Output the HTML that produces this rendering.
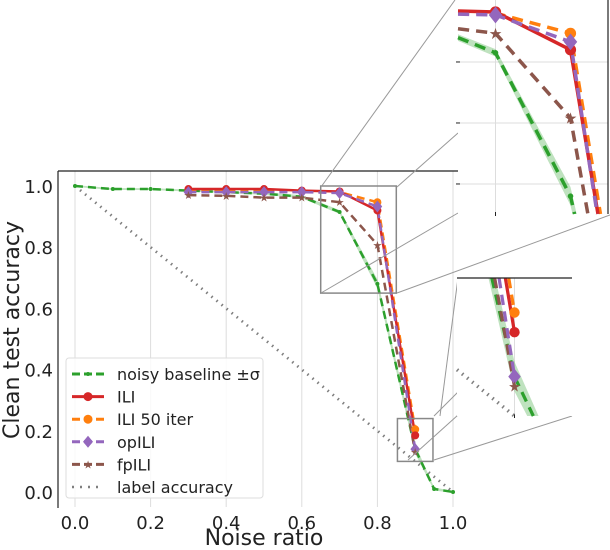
<!DOCTYPE html>
<html><head><meta charset="utf-8"><style>
html,body{margin:0;background:#fff;overflow:hidden;width:610px;height:550px}
svg{display:block;font-family:"DejaVu Sans","Liberation Sans",sans-serif;overflow:hidden}
</style></head><body>
<svg id="c" width="610" height="550" viewBox="0 0 610 550"></svg>
<script>
const xNoise=[0,0.1,0.2,0.3,0.4,0.5,0.6,0.7,0.8,0.9,0.95,1.0];
const yBaseline=[1.0,0.99,0.99,0.985,0.98,0.975,0.965,0.915,0.68,0.14,0.01,0.0];
const yBaseSd=[0.003,0.003,0.003,0.003,0.003,0.004,0.005,0.006,0.015,0.015,0.005,0.003];
const xILI=[0.3,0.4,0.5,0.6,0.7,0.8,0.9];
const yILI=[0.99,0.99,0.99,0.985,0.982,0.92,0.185];
const yILI50=[0.985,0.985,0.985,0.982,0.98,0.947,0.205];
const yOpILI=[0.98,0.98,0.98,0.98,0.977,0.933,0.14];
const yFpILI=[0.97,0.968,0.962,0.962,0.947,0.808,0.13];
const xLabelAcc=[0,1];
const yLabelAcc=[1,0];
const xTicks=[0,0.2,0.4,0.6,0.8,1.0];
const yTicks=[0,0.2,0.4,0.6,0.8,1.0];
const legendLabels=["noisy baseline ±σ","ILI","ILI 50 iter","opILI","fpILI","label accuracy"];

const NS="http://www.w3.org/2000/svg";
const svg=document.getElementById('c');
function el(tag,attrs,parent){const e=document.createElementNS(NS,tag);for(const k in attrs)e.setAttribute(k,attrs[k]);(parent||svg).appendChild(e);return e;}

const C={g:'#2ca02c',r:'#d62728',o:'#ff7f0e',p:'#9467bd',b:'#8c564b',gr:'#7f7f7f'};

function makeAxes(name,px0,px1,py0,py1,xmin,xmax,ymin,ymax,scaleM){
  const sx=v=>px0+(v-xmin)/(xmax-xmin)*(px1-px0);
  const sy=v=>py0-(v-ymin)/(ymax-ymin)*(py0-py1);
  return {sx,sy,name,scaleM};
}
// clip a segment to rect (Liang-Barsky)
function clipSeg(a,b,R){
  let t0=0,t1=1;const dx=b[0]-a[0],dy=b[1]-a[1];
  const p=[-dx,dx,-dy,dy],q=[a[0]-R.x0,R.x1-a[0],a[1]-R.y0,R.y1-a[1]];
  for(let i=0;i<4;i++){
    if(p[i]===0){if(q[i]<0)return null;}
    else{const r=q[i]/p[i];if(p[i]<0){if(r>t1)return null;if(r>t0)t0=r;}else{if(r<t0)return null;if(r<t1)t1=r;}}
  }
  return [[a[0]+t0*dx,a[1]+t0*dy],[a[0]+t1*dx,a[1]+t1*dy]];
}
function clipPolyline(pts,R){
  const runs=[];let cur=null;
  for(let i=0;i<pts.length-1;i++){
    const s=clipSeg(pts[i],pts[i+1],R);
    if(!s){cur=null;continue;}
    if(cur&&Math.abs(cur[cur.length-1][0]-s[0][0])<1e-6&&Math.abs(cur[cur.length-1][1]-s[0][1])<1e-6){cur.push(s[1]);}
    else{cur=[s[0],s[1]];runs.push(cur);}
  }
  return runs;
}
function clipPolygon(poly,R){
  const edges=[[p=>p[0]>=R.x0,(a,b)=>{const t=(R.x0-a[0])/(b[0]-a[0]);return [R.x0,a[1]+t*(b[1]-a[1])];}],
    [p=>p[0]<=R.x1,(a,b)=>{const t=(R.x1-a[0])/(b[0]-a[0]);return [R.x1,a[1]+t*(b[1]-a[1])];}],
    [p=>p[1]>=R.y0,(a,b)=>{const t=(R.y0-a[1])/(b[1]-a[1]);return [a[0]+t*(b[0]-a[0]),R.y0];}],
    [p=>p[1]<=R.y1,(a,b)=>{const t=(R.y1-a[1])/(b[1]-a[1]);return [a[0]+t*(b[0]-a[0]),R.y1];}]];
  let out=poly;
  for(const [inside,inter] of edges){
    const inp=out;out=[];if(!inp.length)break;
    for(let i=0;i<inp.length;i++){
      const cur=inp[i],prev=inp[(i+inp.length-1)%inp.length];
      if(inside(cur)){if(!inside(prev))out.push(inter(prev,cur));out.push(cur);}
      else if(inside(prev))out.push(inter(prev,cur));
    }
  }
  return out;
}
function inR(x,y,R){return x>=R.x0-1&&x<=R.x1+1&&y>=R.y0-1&&y<=R.y1+1;}

function drawSeries(ax,g,R){
  const {sx,sy}=ax;const m=ax.scaleM;
  let poly=[];xNoise.forEach((x,i)=>poly.push([sx(x),sy(yBaseline[i]+yBaseSd[i])]));
  for(let i=xNoise.length-1;i>=0;i--)poly.push([sx(xNoise[i]),sy(yBaseline[i]-yBaseSd[i])]);
  poly=clipPolygon(poly,R);
  if(poly.length>2){
    const band=el('polygon',{points:poly.map(p=>p[0].toFixed(2)+','+p[1].toFixed(2)).join(' '),fill:C.g,opacity:0.3},g);
    
    
  }
  function line(xs,ys,color,dash,w,name){
    const runs=clipPolyline(xs.map((x,i)=>[sx(x),sy(ys[i])]),R);
    runs.forEach(r=>{
      const p=el('polyline',{points:r.map(q=>q[0].toFixed(2)+','+q[1].toFixed(2)).join(' '),fill:'none',stroke:color,'stroke-width':w,'stroke-dasharray':dash,'stroke-linejoin':'round'},g);
      
      
    });
  }
  const dd=(8*m)+' '+(5*m);
  line(xLabelAcc,yLabelAcc,C.gr,'1.5 5',2.8*m,'label-accuracy-line');
  line(xNoise,yBaseline,C.g,dd,2.5*m,'baseline-line');
  xNoise.forEach((x,i)=>{if(!inR(sx(x),sy(yBaseline[i]),R))return;const c=el('circle',{cx:sx(x),cy:sy(yBaseline[i]),r:2*m,fill:C.g},g);});
  line(xILI,yFpILI,C.b,dd,2.5*m,'fpili-line');
  line(xILI,yILI50,C.o,dd,2.5*m,'ili50-line');
  line(xILI,yILI,C.r,'',2.5*m,'ili-line');
  line(xILI,yOpILI,C.p,dd,2.5*m,'opili-line');
  xILI.forEach((x,i)=>{
    const X=sx(x);
    let c;
    if(inR(X,sy(yILI50[i]),R)){c=el('circle',{cx:X,cy:sy(yILI50[i]),r:4*m,fill:C.o},g);}
    if(inR(X,sy(yILI[i]),R)){c=el('circle',{cx:X,cy:sy(yILI[i]),r:4*m,fill:C.r},g);}
    const Y=sy(yOpILI[i]),s=6*m;
    if(inR(X,Y,R)){c=el('polygon',{points:`${X},${Y-s} ${X+s*0.8},${Y} ${X},${Y+s} ${X-s*0.8},${Y}`,fill:C.p},g);}
    if(inR(X,sy(yFpILI[i]),R)){c=el('text',{x:X,y:sy(yFpILI[i])+4*m,'text-anchor':'middle','font-size':11*m,fill:C.b},g);c.textContent='★';}
  });
}

const main=makeAxes('main',75,453,492,186,0,1,0,1,1);
xTicks.forEach(t=>{const l=el('line',{x1:main.sx(t),x2:main.sx(t),y1:171,y2:507,stroke:'#ddd','stroke-width':1});});
const gm=el('g',{});
drawSeries(main,gm,{x0:58,x1:458,y0:171,y1:507});
let s=el('line',{x1:58,x2:58,y1:171,y2:508,stroke:'#222','stroke-width':1.2});
s=el('line',{x1:58,x2:458,y1:171,y2:171,stroke:'#222','stroke-width':1.2});
xTicks.forEach(t=>{const e=el('text',{x:main.sx(t),y:529,'text-anchor':'middle','font-size':18,fill:'#222'});e.textContent=t.toFixed(1);});
yTicks.forEach(t=>{const e=el('text',{x:53,y:main.sy(t)+7,'text-anchor':'end','font-size':18,fill:'#222'});e.textContent=t.toFixed(1);});
let t=el('text',{x:264,y:545,'text-anchor':'middle','font-size':22,fill:'#222'});t.textContent='Noise ratio';
t=el('text',{x:0,y:0,transform:'translate(19,330) rotate(-90)','text-anchor':'middle','font-size':22,fill:'#222'});t.textContent='Clean test accuracy';

const zr1={x0:0.65,x1:0.85,y0:0.65,y1:1.0},zr2={x0:0.853,x1:0.947,y0:0.1,y1:0.24};
[zr1,zr2].forEach((z,i)=>{const r=el('rect',{x:main.sx(z.x0),y:main.sy(z.y1),width:main.sx(z.x1)-main.sx(z.x0),height:main.sy(z.y0)-main.sy(z.y1),fill:'none',stroke:'#888','stroke-width':1.5});});
const conn=[[321,187,455,0],[397,187,458,133],[321,293,458,213],[397,293,610,215],[434,416,458,392],[408,460,458,415],[434,460,572,416],[440,416,458,278]];
conn.forEach(c=>{const l=el('line',{x1:c[0],y1:c[1],x2:c[2],y2:c[3],stroke:'#999','stroke-width':1});});

// inset 1
const in1=makeAxes('inset1',458,608,214,0,0.65,0.85,0.65,1.0016,1.4);
in1.sy=v=>(1.0016-v)*610;in1.sx=v=>458+(v-0.65)/0.2*150;
let bg=el('rect',{x:458,y:0,width:152,height:214,fill:'#fff'});
[0.7,0.8,0.9].forEach(v=>{const l=el('line',{x1:458,x2:608,y1:in1.sy(v),y2:in1.sy(v),stroke:'#ddd'});
 const k=el('line',{x1:456,x2:460,y1:in1.sy(v),y2:in1.sy(v),stroke:'#222'});});
el('line',{x1:in1.sx(0.7),x2:in1.sx(0.7),y1:0,y2:214,stroke:'#ddd'});
el('line',{x1:in1.sx(0.7),x2:in1.sx(0.7),y1:212,y2:216,stroke:'#222'});
const g1=el('g',{});
drawSeries(in1,g1,{x0:458,x1:608,y0:0,y1:214});
el('line',{x1:608,x2:608,y1:0,y2:214,stroke:'#222','stroke-width':1.2});

// inset 2
const in2=makeAxes('inset2',457,572,416,278,0.853,0.947,0.1,0.24,1.3);
bg=el('rect',{x:457,y:278,width:115,height:138,fill:'#fff'});
el('line',{x1:in2.sx(0.9),x2:in2.sx(0.9),y1:278,y2:416,stroke:'#ddd'});
el('line',{x1:in2.sx(0.9),x2:in2.sx(0.9),y1:414,y2:418,stroke:'#222'});
const g2=el('g',{});
drawSeries(in2,g2,{x0:457,x1:572,y0:278,y1:416});
el('line',{x1:457,x2:572,y1:278,y2:278,stroke:'#222','stroke-width':1.2});

const lg=el('g',{});
el('rect',{x:66,y:358,width:197,height:140,rx:3,fill:'#fff','fill-opacity':0.85,stroke:'#ddd'},lg);
const lcol=[C.g,C.r,C.o,C.p,C.b,C.gr];
legendLabels.forEach((lab,i)=>{
  const y=374+i*22.6;
  const e=el('g',{},lg);
  const dash=i==1?'':(i==5?'2 6':'8 4');
  el('line',{x1:72,x2:104,y1:y,y2:y,stroke:lcol[i],'stroke-width':i==5?2.5:3,'stroke-dasharray':dash},e);
  if(i==0)el('circle',{cx:88,cy:y,r:2,fill:C.g},e);
  if(i==1||i==2)el('circle',{cx:88,cy:y,r:4.5,fill:lcol[i]},e);
  if(i==3)el('polygon',{points:`88,${y-6} 93,${y} 88,${y+6} 83,${y}`,fill:C.p},e);
  if(i==4){const s=el('text',{x:88,y:y+4,'text-anchor':'middle','font-size':11,fill:C.b},e);s.textContent='★';}
  const tx=el('text',{x:117,y:y+6,'font-size':16,fill:'#222'},e);tx.textContent=lab;
});
</script>
</body></html>
